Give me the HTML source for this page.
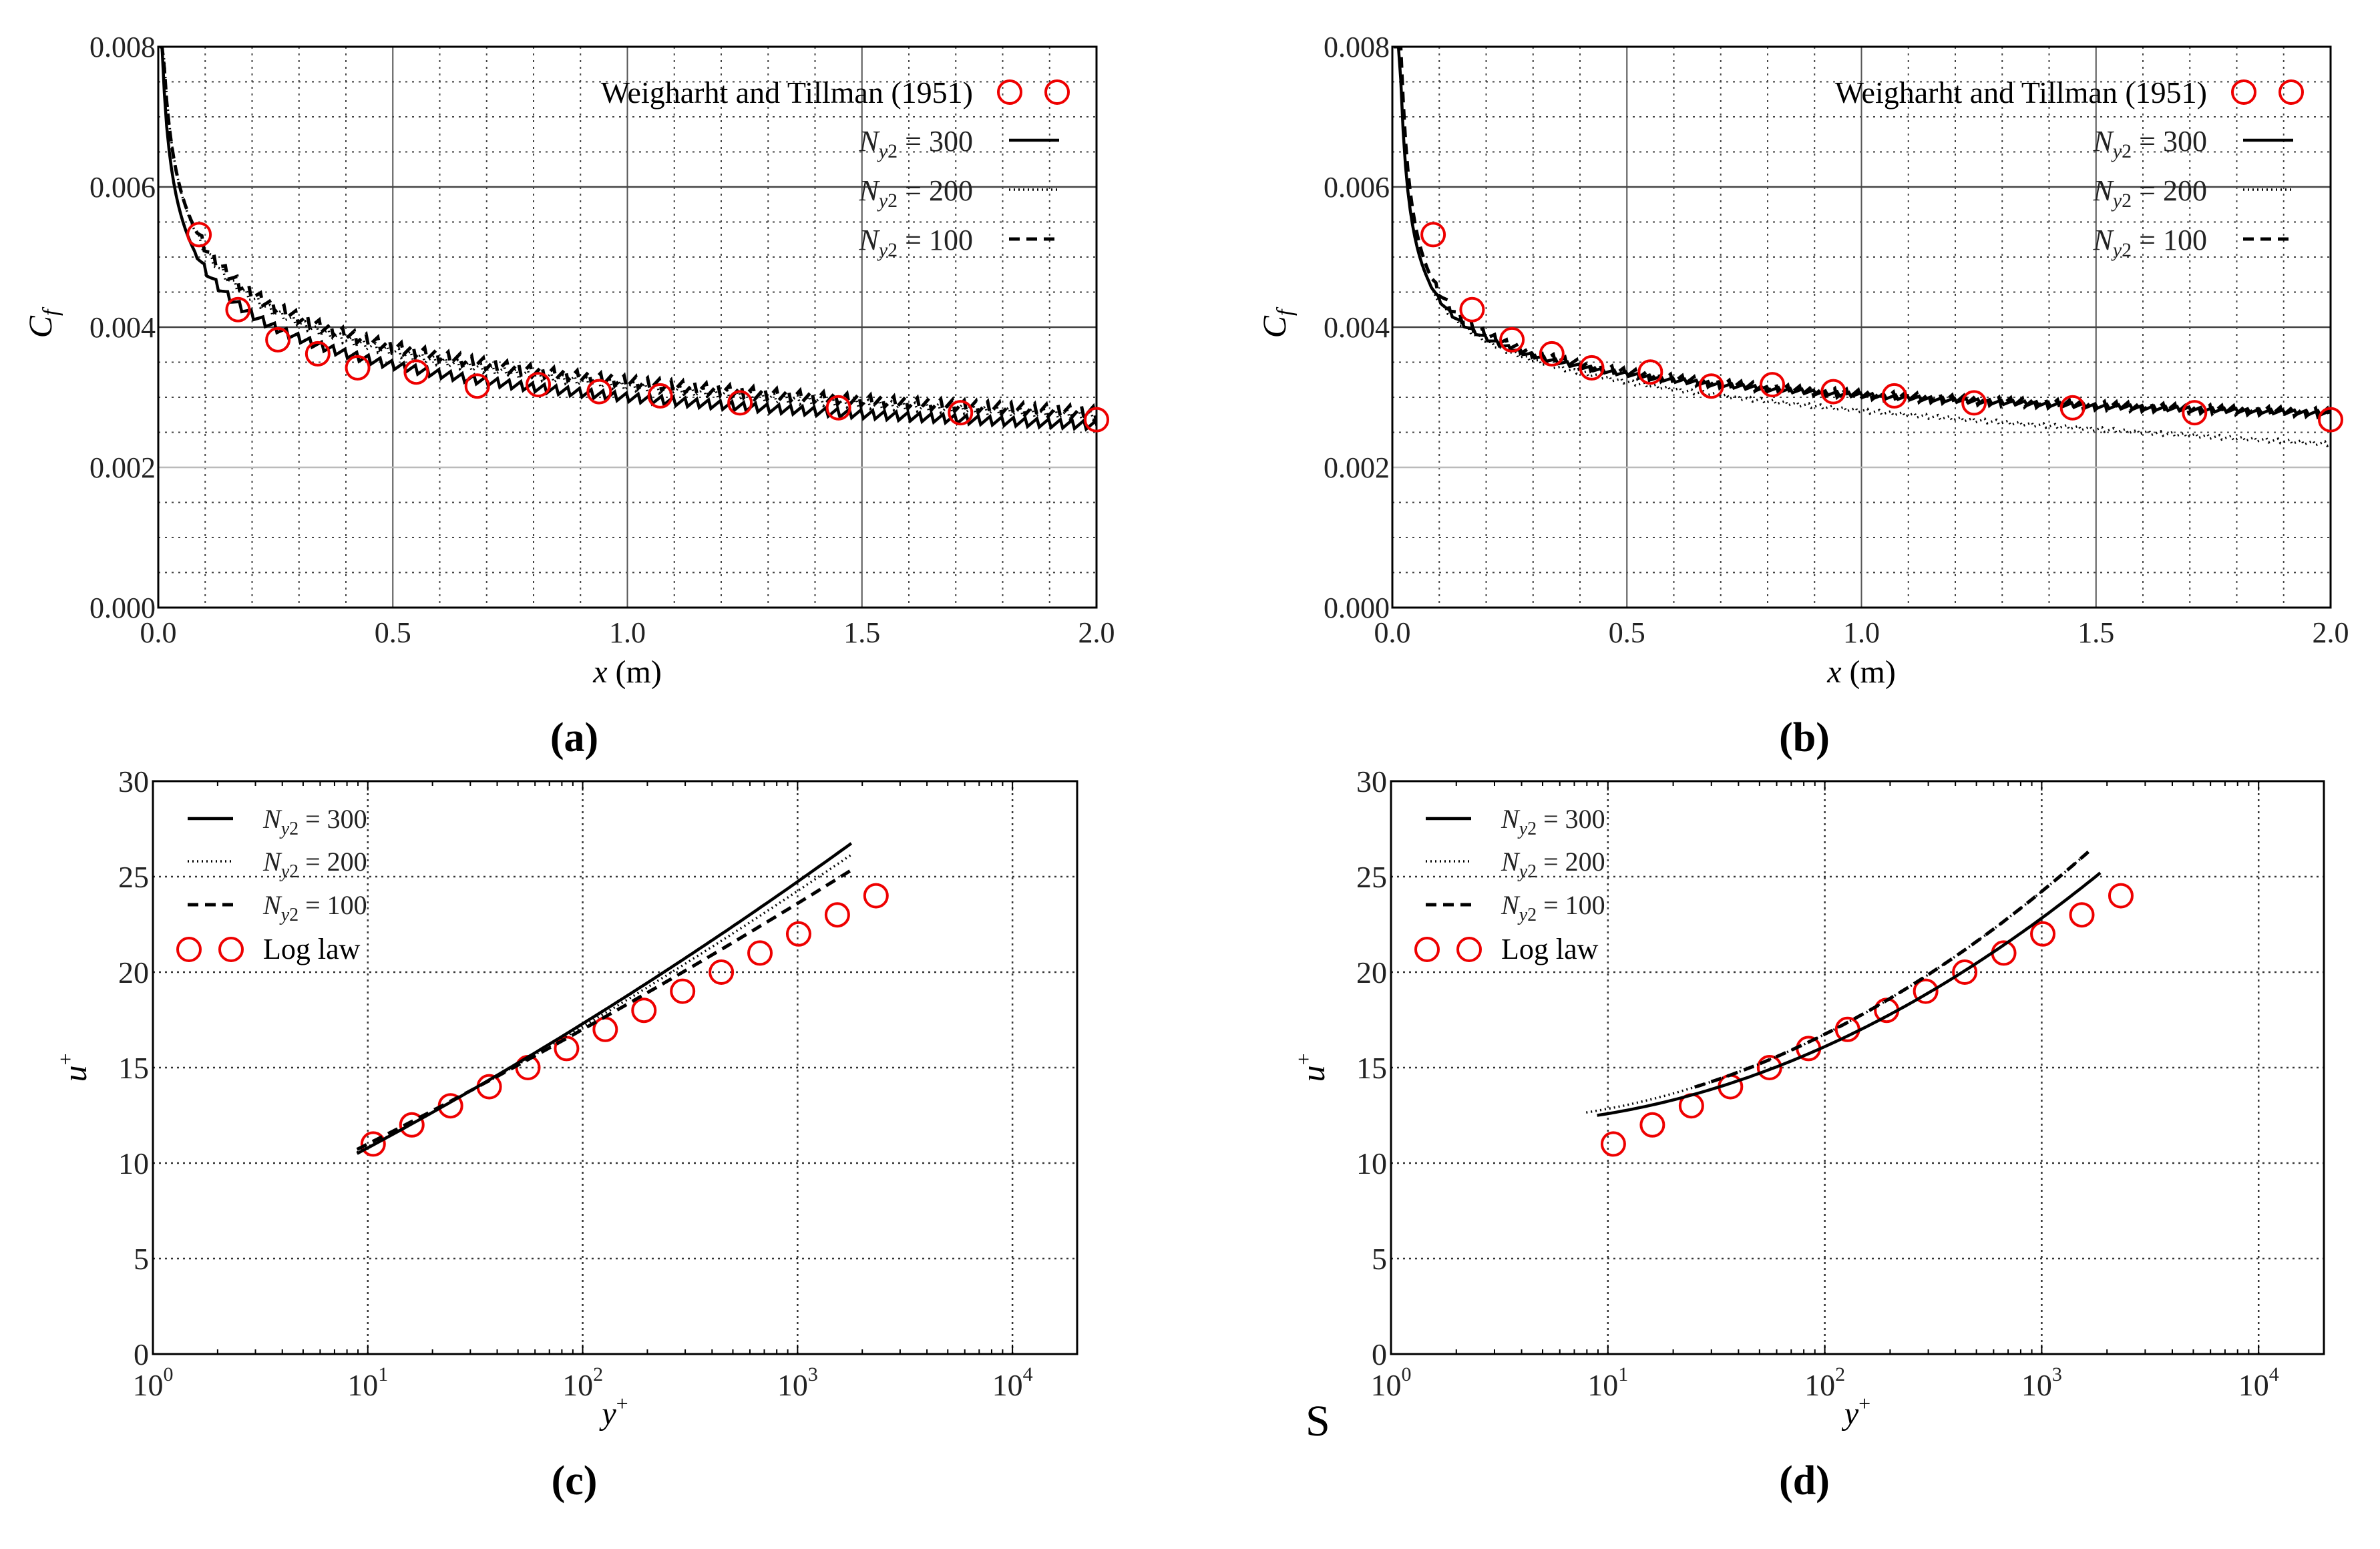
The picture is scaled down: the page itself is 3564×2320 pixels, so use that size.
<!DOCTYPE html>
<html><head><meta charset="utf-8"><style>
html,body{margin:0;padding:0;background:#fff;}
svg{display:block;font-family:"Liberation Serif",serif;}
</style></head><body>
<svg id="s" width="3564" height="2320" viewBox="0 0 3564 2320" xmlns="http://www.w3.org/2000/svg">
<rect width="3564" height="2320" fill="#fff"/>
</svg>
<script>
var S=document.getElementById('s');var out='';
function ln(x1,y1,x2,y2,st){out+='<line x1="'+x1+'" y1="'+y1+'" x2="'+x2+'" y2="'+y2+'" '+st+'/>';}
function tx(x,y,t,st){out+='<text x="'+x+'" y="'+y+'" '+st+'>'+t+'</text>';}
function circ(x,y){out+='<circle cx="'+x+'" cy="'+y+'" r="17" fill="none" stroke="#e00" stroke-width="4"/>';}
function path(pts,st){var d='M'+pts.map(function(p){return p[0].toFixed(1)+','+p[1].toFixed(1)}).join('L');out+='<path d="'+d+'" fill="none" '+st+'/>';}
var SOLID='stroke="#000" stroke-width="4.5"',DOT='stroke="#000" stroke-width="3.5" stroke-dasharray="2,5"',DASH='stroke="#000" stroke-width="5" stroke-dasharray="16,10"';

function cfPanel(L,R,T,B,lab,lx,fs){
  var X=function(v){return L+v/2*(R-L)},Y=function(v){return B-v/0.008*(B-T)};
  var i,v;
  for(i=1;i<20;i++){if(i%5)ln(X(i*0.1),T,X(i*0.1),B,'stroke="#444" stroke-width="2" stroke-dasharray="3,7"');}
  for(i=1;i<16;i++){if(i%4)ln(L,Y(i*0.0005),R,Y(i*0.0005),'stroke="#444" stroke-width="2" stroke-dasharray="3,7"');}
  [0.5,1,1.5].forEach(function(v){ln(X(v),T,X(v),B,'stroke="#555" stroke-width="2"');});
  ln(L,Y(0.004),R,Y(0.004),'stroke="#444" stroke-width="2.5"');ln(L,Y(0.006),R,Y(0.006),'stroke="#444" stroke-width="2.5"');
  ln(L,Y(0.002),R,Y(0.002),'stroke="#bbb" stroke-width="2.5"');
  out+='<rect x="'+L+'" y="'+T+'" width="'+(R-L)+'" height="'+(B-T)+'" fill="none" stroke="#000" stroke-width="3"/>';
  ['0.000','0.002','0.004','0.006','0.008'].forEach(function(t,k){tx(L-4,Y(k*0.002)+15,t,'font-size="44" text-anchor="end" fill="#222"');});
  ['0.0','0.5','1.0','1.5','2.0'].forEach(function(t,k){tx(X(k*0.5),B+52,t,'font-size="44" text-anchor="middle" fill="#222"');});
  tx((L+R)/2,B+112,'<tspan font-style="italic">x</tspan> (m)','font-size="48" text-anchor="middle"');
  out+='<text transform="translate('+(L-160)+','+(Y(0.004)-5)+') rotate(-90)" font-size="50" font-style="italic" text-anchor="middle">C<tspan font-size="34" dy="10">f</tspan></text>';
  tx(lx,B+215,lab,'font-size="62" text-anchor="middle" font-weight="bold"');
  return [X,Y];
}
function legendCf(R,T){
  tx(R-185,T+84,'Weigharht and Tillman (1951)','font-size="46" text-anchor="end"');
  circ(R-130,T+68);circ(R-59,T+68);
  var ys=[T+140,T+214,T+288],lb=['300','200','100'],st=[SOLID,DOT,DASH];
  for(var k=0;k<3;k++){tx(R-185,ys[k]+16,'<tspan font-style="italic">N</tspan><tspan font-size="30" font-style="italic" dy="10">y</tspan><tspan font-size="30" dy="0">2</tspan><tspan dy="-10"> = '+lb[k]+'</tspan>','font-size="44" text-anchor="end" fill="#222"');
  path([[R-131,ys[k]],[R-56,ys[k]]],st[k]);}
}
var xs=[0.087,0.17,0.255,0.34,0.425,0.55,0.68,0.81,0.94,1.07,1.24,1.45,1.71,2.0];
var cs=[0.00532,0.00425,0.00382,0.00362,0.00342,0.00336,0.00316,0.00318,0.00308,0.00302,0.00292,0.00285,0.00278,0.00268];
var cid=0;
function curve(f,amp,X,Y,L,R,T,B,st,ph){
  var pts=[],i,x;ph=ph||0;
  for(i=0;i<=400;i++){x=0.003+i*0.005;var v=f(x);var n=(x>0.08)?amp*((((i+ph)%5)/2)-1):0;v=Math.min(0.0080,v+n);pts.push([X(x),Y(v)]);}
  cid++;
  out+='<clipPath id="c'+cid+'"><rect x="'+L+'" y="'+T+'" width="'+(R-L)+'" height="'+(B-T)+'"/></clipPath>';
  out+='<g clip-path="url(#c'+cid+')">';path(pts,st);out+='</g>';
}
// Panel a
(function(){var L=237,R=1642,T=70,B=910;var m=cfPanel(L,R,T,B,'(a)',860);var X=m[0],Y=m[1];
 curve(function(x){return 0.0030*Math.pow(x,-0.206)},0.00006,X,Y,L,R,T,B,SOLID,0);
 curve(function(x){return 0.00312*Math.pow(x,-0.21)+0.00004},0.00006,X,Y,L,R,T,B,DOT,2);
 curve(function(x){return 0.00318*Math.pow(x,-0.2)+0.00012*Math.exp(-x)},0.00008,X,Y,L,R,T,B,DASH,1);
 xs.forEach(function(x,k){circ(X(x),Y(cs[k]));});legendCf(R,T);})();
// Panel b
(function(){var L=2085,R=3490,T=70,B=910;var m=cfPanel(L,R,T,B,'(b)',2702);var X=m[0],Y=m[1];
 curve(function(x){return 0.00302*Math.pow(x,-0.115)+0.00005/x-0.00004},0.00003,X,Y,L,R,T,B,SOLID,0);
 curve(function(x){return 0.00302*Math.pow(x,-0.115)+0.00005/x-0.00004-0.00022*x},0.00003,X,Y,L,R,T,B,DOT,2);
 curve(function(x){return 0.00302*Math.pow(x,-0.115)+0.00006/x-0.00004},0.00006,X,Y,L,R,T,B,DASH,1);
 xs.forEach(function(x,k){circ(X(x),Y(cs[k]));});legendCf(R,T);})();

function uPanel(L,R,T,B,lab,lx,fs){
  var D=(R-L)/Math.log10(2e4);
  var X=function(l){return L+l*D},Y=function(u){return B-u/30*(B-T)};
  var i,d;
  for(d=1;d<=4;d++)ln(X(d),T,X(d),B,'stroke="#333" stroke-width="2.5" stroke-dasharray="3,6"');
  for(i=1;i<6;i++)ln(L,Y(i*5),R,Y(i*5),'stroke="#333" stroke-width="2.5" stroke-dasharray="3,6"');
  out+='<rect x="'+L+'" y="'+T+'" width="'+(R-L)+'" height="'+(B-T)+'" fill="none" stroke="#000" stroke-width="3"/>';
  for(d=0;d<=4;d++){for(i=1;i<10;i++){var l=d+Math.log10(i);if(l>4.3)break;var h=(i==1)?14:7;ln(X(l),B,X(l),B-h,'stroke="#000" stroke-width="2"');ln(X(l),T,X(l),T+h,'stroke="#000" stroke-width="2"');}}
  for(i=0;i<=6;i++)tx(L-6,Y(i*5)+16,''+i*5,'font-size="46" text-anchor="end" fill="#222"');
  for(d=0;d<=4;d++)tx(X(d),B+62,'10<tspan font-size="30" dy="-22">'+d+'</tspan>','font-size="46" text-anchor="middle" fill="#222"');
  tx((L+R)/2,B+105,'<tspan font-style="italic">y</tspan><tspan font-size="32" dy="-20">+</tspan>','font-size="48" text-anchor="middle"');
  out+='<text transform="translate('+(L-100)+','+Y(15)+') rotate(-90)" font-size="50" text-anchor="middle"><tspan font-style="italic">u</tspan><tspan font-size="32" dy="-20">+</tspan></text>';
  tx(lx,B+210,lab,'font-size="62" text-anchor="middle" font-weight="bold"');
  var ys=[T+56,T+120,T+185],lb=['300','200','100'],st=[SOLID,DOT,DASH];
  for(var k=0;k<3;k++){path([[L+52,ys[k]],[L+120,ys[k]]],st[k]);tx(L+165,ys[k]+14,'<tspan font-style="italic">N</tspan><tspan font-size="28" font-style="italic" dy="10">y</tspan><tspan font-size="28">2</tspan><tspan dy="-10"> = '+lb[k]+'</tspan>','font-size="40" fill="#222"');}
  circ(L+54,T+252);circ(L+117,T+252);tx(L+165,T+266,'Log law','font-size="44"');
  for(k=0;k<14;k++)circ(X(1.025+0.18*k),Y(11+k));
  return [X,Y];
}
function qcurve(X,Y,l0,l1,c,b,a,st){var p=[];for(var l=l0;l<=l1+1e-9;l+=0.02){var t=l-2;p.push([X(l),Y(c+b*t+a*t*t)]);}path(p,st);}
(function(){var m=uPanel(229,1613,1170,2028,'(c)',860);var X=m[0],Y=m[1];
 qcurve(X,Y,0.95,3.26,17.3,6.97,0.468,SOLID);
 qcurve(X,Y,0.95,3.26,17.15,6.7,0.4,DOT);
 qcurve(X,Y,0.95,3.26,17.0,6.3,0.3,DASH);})();
(function(){var m=uPanel(2083,3480,1170,2028,'(d)',2702);var X=m[0],Y=m[1];
 qcurve(X,Y,0.95,3.27,16.1,5.12,1.61,SOLID);
 qcurve(X,Y,0.9,3.23,16.75,5.69,1.785,DOT);
 qcurve(X,Y,1.4,3.23,16.75,5.69,1.785,DASH);})();
tx(1955,2150,'S','font-size="66"');
S.innerHTML+=out;
</script>
</body></html>
